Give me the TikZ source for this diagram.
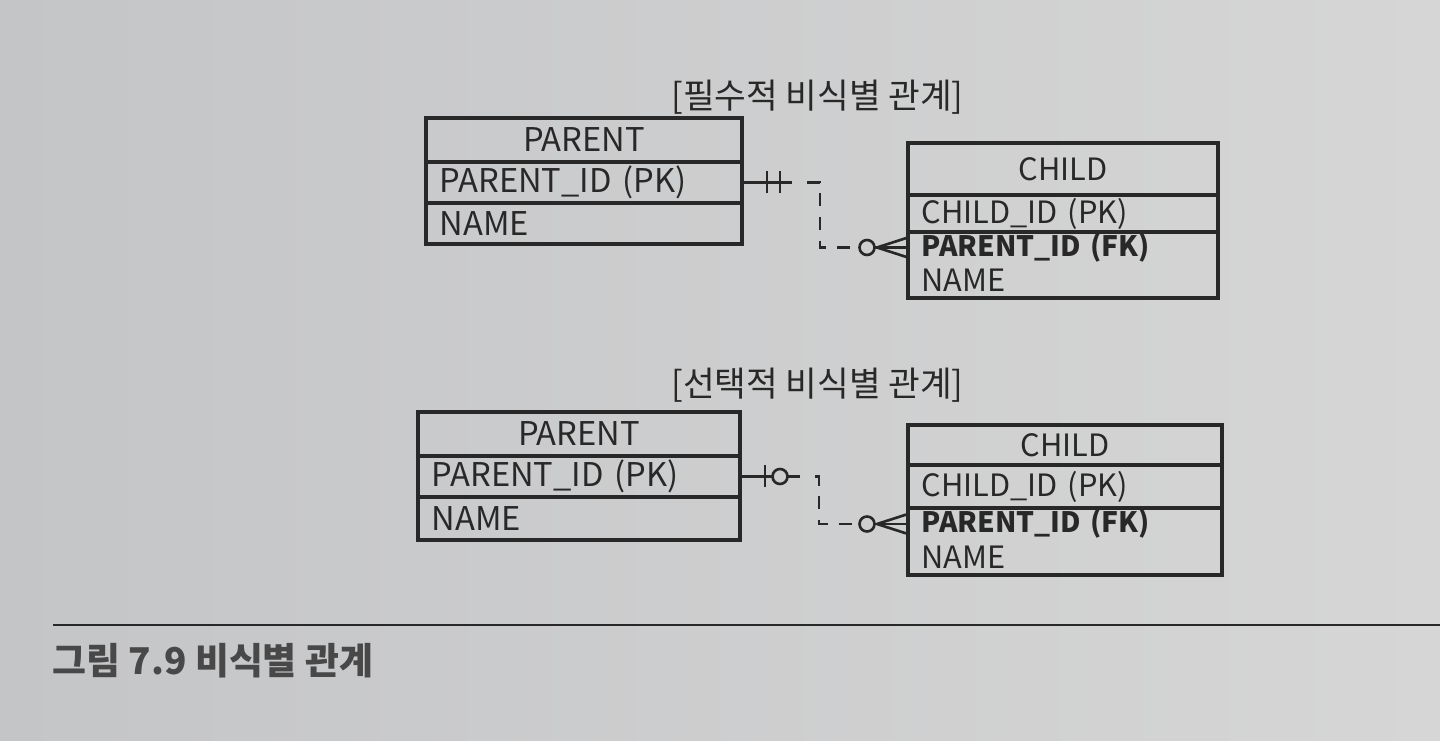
\documentclass[tikz,border=0pt]{standalone}
\usepackage{fontspec}
\setmainfont{Noto Sans CJK KR}
\usetikzlibrary{positioning}
\definecolor{ink}{RGB}{40,40,40}
\definecolor{paperl}{RGB}{196,197,199}
\definecolor{paperr}{RGB}{214,214,214}
\tikzset{
  cell/.style={draw=ink, line width=1.8pt, inner xsep=0.27cm, inner ysep=0pt, outer sep=0pt, text=ink, font=\fontsize{18.6}{22}\selectfont},
  hdr/.style={cell, text width=#1, align=center},
  row/.style={cell, text width=#1, align=left},
  bare/.style={cell, draw=none, text width=#1, align=left},
  kid/.style={font=\fontsize{17.5}{21}\selectfont},
  conn/.style={draw=ink, line width=1.5pt},
  dashline/.style={conn, dash pattern=on 7.5pt off 6pt}
}
\begin{document}
\begin{tikzpicture}
\useasboundingbox (0,0) rectangle (28.8,-14.82);
\shade[left color=paperl, right color=paperr] (0,0) rectangle (28.8,-14.82);
% titles
\node[text=ink, font=\fontsize{19.6}{22}\selectfont] (t1) at (16.35,-1.94) {[필수적 비식별 관계]};
\node[text=ink, font=\fontsize{19.6}{22}\selectfont] (t2) at (16.35,-7.7) {[선택적 비식별 관계]};
% upper pair
\node[hdr=5.78cm, minimum height=0.88cm, anchor=north] (p1) at (11.68,-2.36) {PARENT};
\node[row=5.78cm, minimum height=0.82cm, below=0pt of p1] (p1id) {PARENT\_ID (PK)};
\node[row=5.78cm, minimum height=0.82cm, below=0pt of p1id] (p1nm) {NAME};
\node[hdr=5.66cm, kid, minimum height=1.04cm, anchor=north] (c1) at (21.26,-2.86) {CHILD};
\node[row=5.66cm, kid, minimum height=0.74cm, below=0pt of c1] (c1id) {CHILD\_ID (PK)};
\node[bare=5.66cm, minimum height=0.62cm, below=0pt of c1id, font=\fontsize{16}{20}\selectfont\bfseries] (c1fk) {PARENT\_ID (FK)};
\node[bare=5.66cm, kid, minimum height=0.70cm, below=0pt of c1fk] (c1nm) {NAME};
\draw[conn, line width=1.8pt] (c1fk.north west) rectangle (c1nm.south east);
% upper connector
\coordinate (s1) at ([xshift=1cm]p1id.east); \coordinate (v1) at ([xshift=1.56cm]p1id.east);
\coordinate (o1) at ([xshift=-0.82cm]c1fk.west); \coordinate (f1) at ([xshift=-0.62cm]c1fk.west);
\draw[conn] (p1id.east) -- (s1);
\draw[conn] ([xshift=0.5cm,yshift=-0.22cm]p1id.east) -- ++(0,0.44); \draw[conn] ([xshift=0.76cm,yshift=-0.22cm]p1id.east) -- ++(0,0.44);
\draw[dashline] ([xshift=0.3cm]s1) -| (v1 |- c1fk.west) -- ([xshift=-0.15cm]o1);
\draw[conn] (o1) circle (0.15);
\draw[conn] ([xshift=0.15cm]o1) -- (c1fk.west);
\draw[conn] (f1) -- ([yshift=0.2cm]c1fk.west); \draw[conn] (f1) -- ([yshift=-0.2cm]c1fk.west);
% lower pair
\node[hdr=5.9cm, minimum height=0.88cm, anchor=north] (p2) at (11.58,-8.24) {PARENT};
\node[row=5.9cm, minimum height=0.82cm, below=0pt of p2] (p2id) {PARENT\_ID (PK)};
\node[row=5.9cm, minimum height=0.86cm, below=0pt of p2id] (p2nm) {NAME};
\node[hdr=5.74cm, kid, minimum height=0.80cm, anchor=north] (c2) at (21.3,-8.5) {CHILD};
\node[row=5.74cm, kid, minimum height=0.86cm, below=0pt of c2] (c2id) {CHILD\_ID (PK)};
\node[bare=5.74cm, minimum height=0.64cm, below=0pt of c2id, font=\fontsize{16}{20}\selectfont\bfseries] (c2fk) {PARENT\_ID (FK)};
\node[bare=5.74cm, kid, minimum height=0.70cm, below=0pt of c2fk] (c2nm) {NAME};
\draw[conn, line width=1.8pt] (c2fk.north west) rectangle (c2nm.south east);
% lower connector
\coordinate (s2) at ([xshift=1.2cm]p2id.east); \coordinate (v2) at ([xshift=1.58cm]p2id.east);
\coordinate (q2) at ([xshift=0.8cm]p2id.east);
\coordinate (o2) at ([xshift=-0.82cm]c2fk.west); \coordinate (f2) at ([xshift=-0.62cm]c2fk.west);
\draw[conn] (p2id.east) -- ([xshift=-0.15cm]q2); \draw[conn] ([xshift=0.15cm]q2) -- (s2);
\draw[conn] (q2) circle (0.15);
\draw[conn] ([xshift=0.5cm,yshift=-0.22cm]p2id.east) -- ++(0,0.44);
\draw[dashline] ([xshift=0.3cm]s2) -| (v2 |- c2fk.west) -- ([xshift=-0.15cm]o2);
\draw[conn] (o2) circle (0.15);
\draw[conn] ([xshift=0.15cm]o2) -- (c2fk.west);
\draw[conn] (f2) -- ([yshift=0.2cm]c2fk.west); \draw[conn] (f2) -- ([yshift=-0.2cm]c2fk.west);
% caption
\coordinate (r0) at (1.06,-12.5); \coordinate (r1) at (28.8,-12.5);
\draw[draw=ink, line width=1pt] (r0) -- (r1);
\node[anchor=west, inner sep=0pt, text=ink!85, font=\fontsize{21}{25}\selectfont\bfseries] (cap) at (1.04,-13.22) {그림 7.9 비식별 관계};
\end{tikzpicture}
\end{document}
